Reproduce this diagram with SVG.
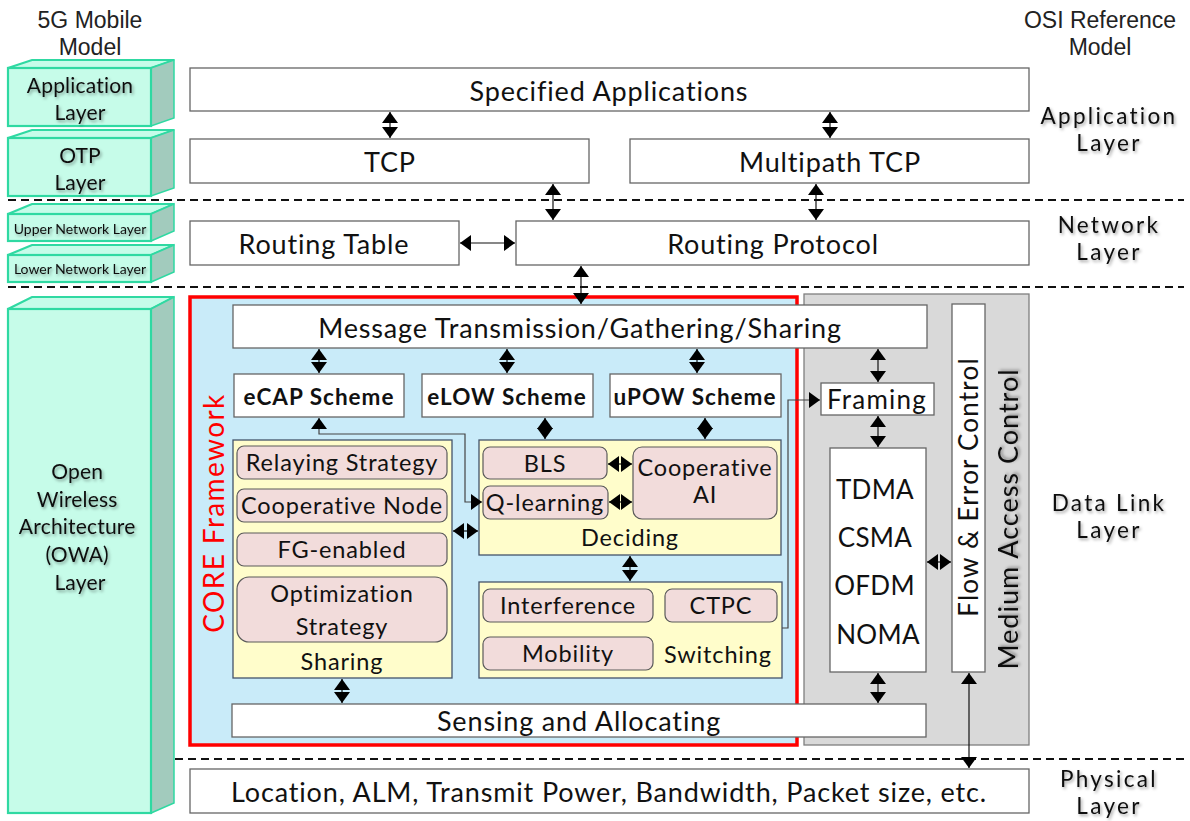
<svg xmlns="http://www.w3.org/2000/svg" width="1190" height="821" viewBox="0 0 1190 821">
  <defs>
    <style>
      .t { font-family: Lato, "Noto Sans", sans-serif; fill: #111; text-anchor: middle; dominant-baseline: central; }
      .big { font-size: 27px; letter-spacing: 0.85px; }
      .mid { font-size: 23.5px; letter-spacing: 0.85px; }
      .bold { font-size: 22.5px; font-weight: bold; letter-spacing: 1px; }
      .lbl { font-size: 22.5px; letter-spacing: 2.3px; }
      .lft { font-size: 21px; letter-spacing: 0.2px; }
      .sml { font-size: 14px; }
      .h { font-family: "Liberation Sans", Arial, sans-serif; fill: #222; text-anchor: middle; font-size: 23px; }
      .box { fill: #ffffff; stroke: #666; stroke-width: 1.3; }
      .yel { fill: #fffdcb; stroke: #44546a; stroke-width: 1.3; }
      .pink { fill: #f2dcdb; stroke: #5a5a5a; stroke-width: 1.2; }
      .front { fill: #c6fce9; stroke: #2fd9a2; stroke-width: 2.2; }
      .side { fill: #a2cbbd; stroke: #2fd9a2; stroke-width: 1.5; }
      .dash { stroke: #111; stroke-width: 2; stroke-dasharray: 8 5; fill: none; }
      .arr { stroke: #111; stroke-width: 1.2; fill: none; marker-start: url(#ah); marker-end: url(#ah); }
      .thin { stroke: #444; stroke-width: 1.2; fill: none; }
      .sh { filter: url(#tshadow); }
    </style>
    <marker id="ah" viewBox="0 0 11 16" refX="11" refY="8" markerWidth="11" markerHeight="16" markerUnits="userSpaceOnUse" orient="auto-start-reverse">
      <path d="M0,0 L11,8 L0,16 z" fill="#000"/>
    </marker>
    <filter id="tshadow" x="-20%" y="-30%" width="140%" height="160%">
      <feDropShadow dx="1.5" dy="2" stdDeviation="1.5" flood-color="#000" flood-opacity="0.35"/>
    </filter>
  </defs>

  <rect width="1190" height="821" fill="#ffffff"/>

  <!-- column headings -->
  <g id="heading-5g">
    <text class="h" x="90" y="28"><tspan x="90" y="28">5G Mobile</tspan><tspan x="90" y="55">Model</tspan></text>
  </g>
  <g id="heading-osi">
    <text class="h" x="1100" y="28"><tspan x="1100" y="28">OSI Reference</tspan><tspan x="1100" y="55">Model</tspan></text>
  </g>

  <!-- layer separators -->
  <g id="separators">
    <line class="dash" x1="8" y1="200" x2="1184" y2="200"/>
    <line class="dash" x1="8" y1="287" x2="1184" y2="287"/>
    <line class="dash" x1="175" y1="759" x2="1184" y2="759"/>
  </g>

  <!-- 5G mobile model stack (3D blocks) -->
  <g id="blk-application">
    <polygon class="front" points="8,68 32,60 174,60 151,68"/>
    <polygon class="side" points="151,68 174,60 174,118 151,126"/>
    <rect class="front" x="8" y="68" width="143" height="58"/>
    <text class="t lft sh"><tspan x="80" y="84">Application</tspan><tspan x="80" y="111">Layer</tspan></text>
  </g>
  <g id="blk-otp">
    <polygon class="front" points="8,138 32,130 174,130 151,138"/>
    <polygon class="side" points="151,138 174,130 174,188 151,196"/>
    <rect class="front" x="8" y="138" width="143" height="58"/>
    <text class="t lft sh"><tspan x="80" y="154">OTP</tspan><tspan x="80" y="181">Layer</tspan></text>
  </g>
  <g id="blk-upper-network">
    <polygon class="front" points="8,214 32,204 174,204 151,214"/>
    <polygon class="side" points="151,214 174,204 174,231 151,241"/>
    <rect class="front" x="8" y="214" width="143" height="27"/>
    <text class="t sml sh" x="80" y="228">Upper Network Layer</text>
  </g>
  <g id="blk-lower-network">
    <polygon class="front" points="8,255 32,245 174,245 151,255"/>
    <polygon class="side" points="151,255 174,245 174,272 151,282"/>
    <rect class="front" x="8" y="255" width="143" height="27"/>
    <text class="t sml sh" x="80" y="268">Lower Network Layer</text>
  </g>
  <g id="blk-owa">
    <polygon class="front" points="8,309 32,297 174,297 151,309"/>
    <polygon class="side" points="151,309 174,297 174,803 151,813"/>
    <rect class="front" x="8" y="309" width="143" height="504"/>
    <text class="t lft sh">
      <tspan x="80" y="470">Open</tspan>
      <tspan x="80" y="498">Wireless</tspan>
      <tspan x="80" y="525">Architecture</tspan>
      <tspan x="80" y="553">(OWA)</tspan>
      <tspan x="80" y="581">Layer</tspan>
    </text>
  </g>

  <!-- OSI reference model labels -->
  <g id="osi-application">
    <text class="t lbl sh"><tspan x="1109" y="115">Application</tspan><tspan x="1109" y="142">Layer</tspan></text>
  </g>
  <g id="osi-network">
    <text class="t lbl sh"><tspan x="1109" y="224">Network</tspan><tspan x="1109" y="251">Layer</tspan></text>
  </g>
  <g id="osi-datalink">
    <text class="t lbl sh"><tspan x="1109" y="502">Data Link</tspan><tspan x="1109" y="529">Layer</tspan></text>
  </g>
  <g id="osi-physical">
    <text class="t lbl sh"><tspan x="1109" y="778">Physical</tspan><tspan x="1109" y="805">Layer</tspan></text>
  </g>

  <!-- upper protocol stack -->
  <g id="specified-applications">
    <rect class="box" x="190" y="68" width="839" height="43"/>
    <text class="t big" x="609" y="90">Specified Applications</text>
  </g>
  <g id="tcp">
    <rect class="box" x="190" y="139" width="399" height="44"/>
    <text class="t big" x="390" y="161">TCP</text>
  </g>
  <g id="multipath-tcp">
    <rect class="box" x="630" y="139" width="399" height="44"/>
    <text class="t big" x="830" y="161">Multipath TCP</text>
  </g>
  <g id="routing-table">
    <rect class="box" x="190" y="221" width="269" height="44"/>
    <text class="t big" x="324" y="243">Routing Table</text>
  </g>
  <g id="routing-protocol">
    <rect class="box" x="516" y="221" width="513" height="44"/>
    <text class="t big" x="773" y="243">Routing Protocol</text>
  </g>

  <!-- CORE framework container -->
  <g id="core-framework">
    <rect x="190" y="297" width="607" height="448" fill="#c9ebf9" stroke="#ff0000" stroke-width="3.5"/>
    <text class="t" transform="translate(213,513) rotate(-90)" x="0" y="0" style="fill:#ff0000;font-size:28px;letter-spacing:1.4px">CORE Framework</text>
  </g>

  <!-- medium access control container -->
  <g id="mac">
    <rect x="804" y="294" width="225" height="451" fill="#d9d9d9" stroke="#7f7f7f" stroke-width="1.3"/>
    <text class="t sh" transform="translate(1007,519) rotate(-90)" x="0" y="0" style="font-size:27px;letter-spacing:1px">Medium Access Control</text>
  </g>

  <g id="message-transmission">
    <rect class="box" x="233" y="305" width="694" height="43"/>
    <text class="t big" x="580" y="327">Message Transmission/Gathering/Sharing</text>
  </g>

  <g id="ecap">
    <rect class="box" x="234" y="374" width="170" height="43"/>
    <text class="t bold" x="319" y="396">eCAP Scheme</text>
  </g>
  <g id="elow">
    <rect class="box" x="422" y="374" width="171" height="43"/>
    <text class="t bold" x="507" y="396">eLOW Scheme</text>
  </g>
  <g id="upow">
    <rect class="box" x="610" y="374" width="171" height="43"/>
    <text class="t bold" x="695" y="396">uPOW Scheme</text>
  </g>

  <g id="sharing">
    <rect class="yel" x="233" y="440" width="219" height="238"/>
    <rect class="pink" x="237" y="446" width="210" height="33" rx="7"/>
    <text class="t mid" x="342" y="462">Relaying Strategy</text>
    <rect class="pink" x="237" y="489" width="210" height="33" rx="7"/>
    <text class="t mid" x="342" y="505">Cooperative Node</text>
    <rect class="pink" x="237" y="533" width="210" height="33" rx="7"/>
    <text class="t mid" x="342" y="549">FG-enabled</text>
    <rect class="pink" x="237" y="577" width="210" height="65" rx="12"/>
    <text class="t mid"><tspan x="342" y="593">Optimization</tspan><tspan x="342" y="626">Strategy</tspan></text>
    <text class="t mid" x="342" y="661">Sharing</text>
  </g>

  <g id="deciding">
    <rect class="yel" x="479" y="440" width="302" height="115"/>
    <rect class="pink" x="483" y="447" width="124" height="32" rx="7"/>
    <text class="t mid" x="545" y="463">BLS</text>
    <rect class="pink" x="483" y="486" width="125" height="33" rx="7"/>
    <text class="t mid" x="545" y="502">Q-learning</text>
    <rect class="pink" x="633" y="447" width="144" height="72" rx="9"/>
    <text class="t mid"><tspan x="705" y="467">Cooperative</tspan><tspan x="705" y="494">AI</tspan></text>
    <text class="t mid" x="630" y="537">Deciding</text>
  </g>

  <g id="switching">
    <rect class="yel" x="479" y="582" width="303" height="96"/>
    <rect class="pink" x="483" y="589" width="170" height="33" rx="7"/>
    <text class="t mid" x="568" y="605">Interference</text>
    <rect class="pink" x="665" y="589" width="112" height="33" rx="7"/>
    <text class="t mid" x="721" y="605">CTPC</text>
    <rect class="pink" x="483" y="637" width="170" height="33" rx="7"/>
    <text class="t mid" x="568" y="653">Mobility</text>
    <text class="t mid" x="718" y="654">Switching</text>
  </g>

  <g id="sensing-allocating">
    <rect class="box" x="232" y="704" width="694" height="33"/>
    <text class="t big" x="579" y="720">Sensing and Allocating</text>
  </g>

  <g id="framing">
    <rect class="box" x="821" y="383" width="113" height="32"/>
    <text class="t" x="877" y="399" style="font-size:26px;letter-spacing:1.2px">Framing</text>
  </g>

  <g id="access-schemes">
    <rect class="box" x="830" y="448" width="96" height="224"/>
    <text class="t" style="font-size:26px;letter-spacing:0.3px">
      <tspan x="878" y="489">TDMA</tspan>
      <tspan x="878" y="537">CSMA</tspan>
      <tspan x="878" y="585">OFDM</tspan>
      <tspan x="878" y="634">NOMA</tspan>
    </text>
  </g>

  <g id="flow-error-control">
    <rect class="box" x="952" y="304" width="33" height="368"/>
    <text class="t" transform="translate(968,487) rotate(-90)" x="0" y="0" style="font-size:26px;letter-spacing:1.2px">Flow &amp; Error Control</text>
  </g>

  <g id="physical-params">
    <rect class="box" x="190" y="769" width="839" height="44"/>
    <text class="t big" x="609" y="791">Location, ALM, Transmit Power, Bandwidth, Packet size, etc.</text>
  </g>

  <!-- connectors -->
  <g id="connectors">
    <line class="arr" x1="390" y1="112" x2="390" y2="138"/>
    <line class="arr" x1="830" y1="112" x2="830" y2="138"/>
    <line class="arr" x1="553" y1="184" x2="553" y2="220"/>
    <line class="arr" x1="816" y1="184" x2="816" y2="220"/>
    <line class="arr" x1="460" y1="243" x2="515" y2="243"/>
    <line class="arr" x1="581" y1="266" x2="581" y2="304"/>
    <line class="arr" x1="319" y1="349" x2="319" y2="373"/>
    <line class="arr" x1="507" y1="349" x2="507" y2="373"/>
    <line class="arr" x1="697" y1="349" x2="697" y2="373"/>
    <line class="arr" x1="878" y1="349" x2="878" y2="382"/>
    <line class="arr" x1="878" y1="416" x2="878" y2="447"/>
    <line class="arr" x1="545" y1="418" x2="545" y2="439"/>
    <line class="arr" x1="705" y1="418" x2="705" y2="439"/>
    <line class="arr" x1="608" y1="464" x2="632" y2="464"/>
    <line class="arr" x1="609" y1="502" x2="632" y2="502"/>
    <line class="arr" x1="453" y1="531" x2="478" y2="531"/>
    <line class="arr" x1="630" y1="556" x2="630" y2="581"/>
    <line class="arr" x1="342" y1="679" x2="342" y2="703"/>
    <line class="arr" x1="878" y1="673" x2="878" y2="703"/>
    <line class="arr" x1="927" y1="562" x2="951" y2="562"/>
    <line class="arr" x1="969" y1="673" x2="969" y2="768"/>
    <polyline class="thin" points="319,418 319,434 465,434 465,502 482,502" marker-start="url(#ah)" marker-end="url(#ah)"/>
    <polyline class="thin" points="782,628 788,628 788,400 820,400" marker-end="url(#ah)"/>
  </g>
</svg>
